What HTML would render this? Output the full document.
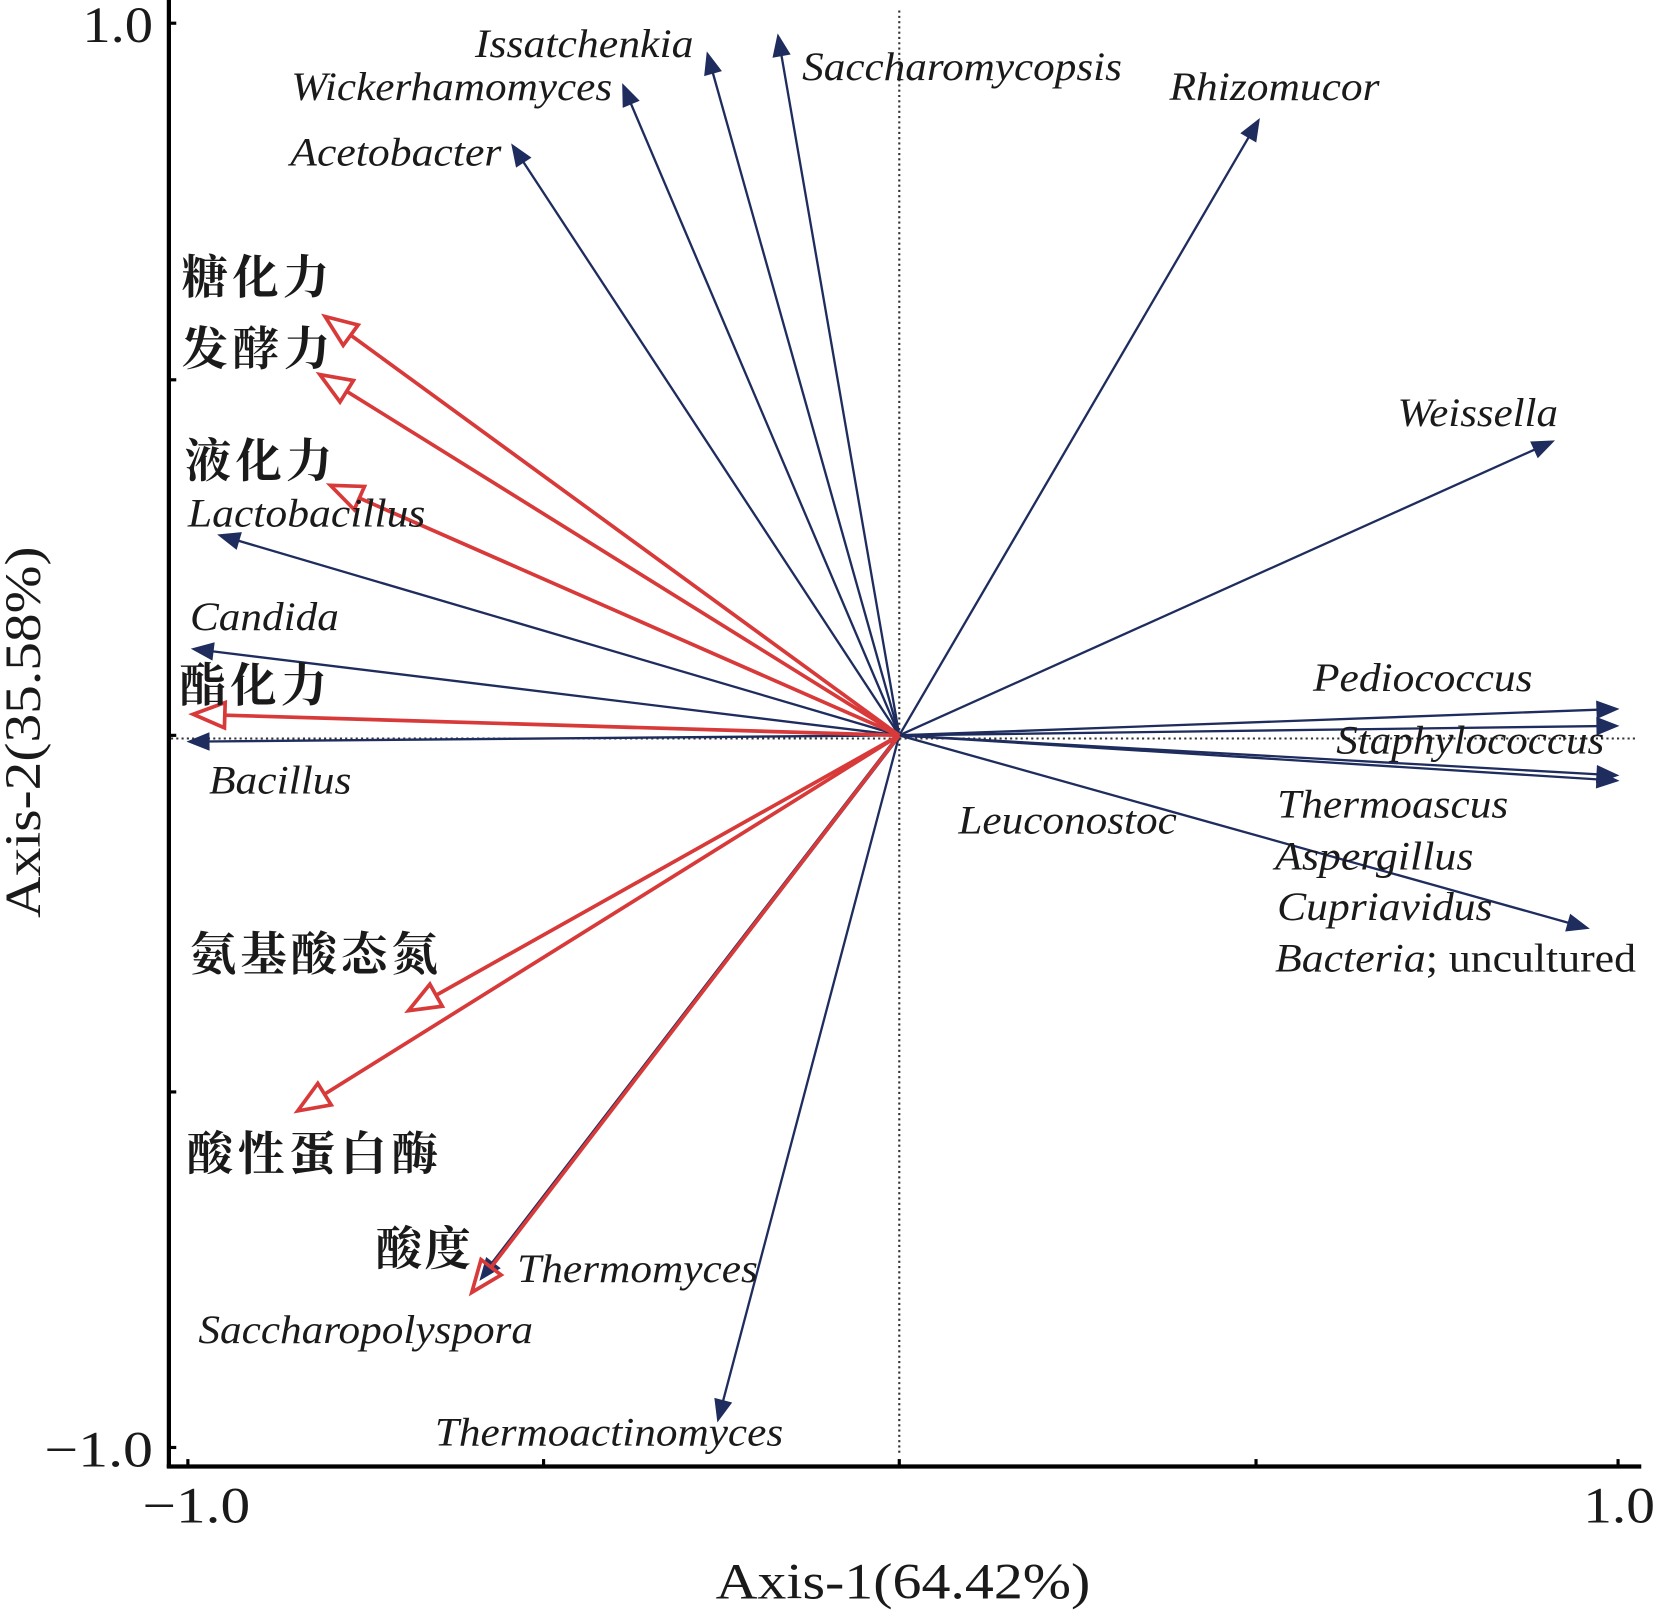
<!DOCTYPE html>
<html><head><meta charset="utf-8"><style>
html,body{margin:0;padding:0;background:#fff;}
svg{display:block;}
.sp{font-family:"Liberation Serif",serif;font-style:italic;font-size:38px;fill:#1a1a1a;}
.cn{font-family:"Liberation Serif","Noto Serif CJK SC",serif;font-size:44px;font-weight:bold;fill:#1a1a1a;}
.ax{font-family:"Liberation Serif",serif;font-size:48px;fill:#1a1a1a;}
</style></head><body>
<svg id="s" width="1655" height="1611" viewBox="0 0 1568 1527" preserveAspectRatio="none" xmlns="http://www.w3.org/2000/svg">
<line x1="160" y1="0" x2="160" y2="1391" stroke="#000" stroke-width="4"/>
<line x1="158" y1="1390" x2="1555" y2="1390" stroke="#000" stroke-width="4"/>
<g stroke="#000" stroke-width="3">
<line x1="160" y1="22" x2="167" y2="22"/><line x1="160" y1="360" x2="167" y2="360"/><line x1="160" y1="697" x2="167" y2="697"/><line x1="160" y1="1035" x2="167" y2="1035"/><line x1="160" y1="1372" x2="167" y2="1372"/>
<line x1="178" y1="1390" x2="178" y2="1383"/><line x1="515" y1="1390" x2="515" y2="1383"/><line x1="852" y1="1390" x2="852" y2="1383"/><line x1="1190" y1="1390" x2="1190" y2="1383"/><line x1="1533" y1="1390" x2="1533" y2="1383"/>
</g>
<line x1="852" y1="10" x2="852" y2="1378" stroke="#333" stroke-width="2" stroke-dasharray="2,3"/>
<line x1="162" y1="700" x2="1552" y2="700" stroke="#333" stroke-width="2" stroke-dasharray="2,3"/>
<g id="arr"></g>
<g>
<text class="ax" x="78" y="40" textLength="67" lengthAdjust="spacingAndGlyphs">1.0</text>
<text class="ax" x="42" y="1390" textLength="103" lengthAdjust="spacingAndGlyphs">−1.0</text>
<text class="ax" x="135" y="1443" textLength="102" lengthAdjust="spacingAndGlyphs">−1.0</text>
<text class="ax" x="1500" y="1443" textLength="68" lengthAdjust="spacingAndGlyphs">1.0</text>
<text class="ax" x="678" y="1515" textLength="355" lengthAdjust="spacingAndGlyphs">Axis-1(64.42%)</text>
<text class="ax" transform="translate(38,870) rotate(-90)" textLength="352" lengthAdjust="spacingAndGlyphs">Axis-2(35.58%)</text>
<text class="sp" x="450" y="54" textLength="207" lengthAdjust="spacingAndGlyphs">Issatchenkia</text>
<text class="sp" x="760" y="76" textLength="303" lengthAdjust="spacingAndGlyphs">Saccharomycopsis</text>
<text class="sp" x="276" y="95" textLength="304" lengthAdjust="spacingAndGlyphs">Wickerhamomyces</text>
<text class="sp" x="275" y="157" textLength="200" lengthAdjust="spacingAndGlyphs">Acetobacter</text>
<text class="sp" x="1108" y="95" textLength="199" lengthAdjust="spacingAndGlyphs">Rhizomucor</text>
<text class="sp" x="1324" y="404" textLength="152" lengthAdjust="spacingAndGlyphs">Weissella</text>
<text class="sp" x="178" y="499" textLength="225" lengthAdjust="spacingAndGlyphs">Lactobacillus</text>
<text class="sp" x="180" y="597" textLength="141" lengthAdjust="spacingAndGlyphs">Candida</text>
<text class="sp" x="198" y="752" textLength="135" lengthAdjust="spacingAndGlyphs">Bacillus</text>
<text class="sp" x="1244" y="655" textLength="208" lengthAdjust="spacingAndGlyphs">Pediococcus</text>
<text class="sp" x="1266" y="714" textLength="254" lengthAdjust="spacingAndGlyphs">Staphylococcus</text>
<text class="sp" x="1210" y="775" textLength="219" lengthAdjust="spacingAndGlyphs">Thermoascus</text>
<text class="sp" x="908" y="790" textLength="207" lengthAdjust="spacingAndGlyphs">Leuconostoc</text>
<text class="sp" x="1208" y="824" textLength="188" lengthAdjust="spacingAndGlyphs">Aspergillus</text>
<text class="sp" x="1210" y="872" textLength="204" lengthAdjust="spacingAndGlyphs">Cupriavidus</text>
<text class="sp" x="1208" y="921" textLength="342" lengthAdjust="spacingAndGlyphs">Bacteria<tspan style="font-style:normal">; uncultured</tspan></text>
<text class="sp" x="490" y="1215" textLength="228" lengthAdjust="spacingAndGlyphs">Thermomyces</text>
<text class="sp" x="188" y="1273" textLength="317" lengthAdjust="spacingAndGlyphs">Saccharopolyspora</text>
<text class="sp" x="412" y="1370" textLength="330" lengthAdjust="spacingAndGlyphs">Thermoactinomyces</text>
<text class="cn" x="172" y="278" textLength="140" lengthAdjust="spacing">糖化力</text>
<text class="cn" x="172" y="346" textLength="141" lengthAdjust="spacing">发酵力</text>
<text class="cn" x="175" y="452" textLength="140" lengthAdjust="spacing">液化力</text>
<text class="cn" x="170" y="665" textLength="140" lengthAdjust="spacing">酯化力</text>
<text class="cn" x="180" y="920" textLength="235" lengthAdjust="spacing">氨基酸态氮</text>
<text class="cn" x="177" y="1109" textLength="238" lengthAdjust="spacing">酸性蛋白酶</text>
<text class="cn" x="356" y="1199" textLength="90" lengthAdjust="spacing">酸度</text>
</g>
</svg>
<script>
var g=document.getElementById('arr'),ns='http://www.w3.org/2000/svg',O=[852,697];
function el(t,a){var e=document.createElementNS(ns,t);for(var k in a)e.setAttribute(k,a[k]);g.appendChild(e);}
function arrow(x,y,col,open,w){var dx=x-O[0],dy=y-O[1],L=Math.hypot(dx,dy),ux=dx/L,uy=dy/L,px=-uy,py=ux;
var hl=open?30:20,hw=open?12:8;var bx=x-ux*hl,by=y-uy*hl;
el('line',{x1:O[0],y1:O[1],x2:open?bx:bx+ux*4,y2:open?by:by+uy*4,stroke:col,'stroke-width':open?3.5:(w||2.2)});
el('polygon',{points:x+','+y+' '+(bx+px*hw)+','+(by+py*hw)+' '+(bx-px*hw)+','+(by-py*hw),fill:open?'none':col,stroke:col,'stroke-width':open?3.5:1,'stroke-linejoin':'miter'});}
var B='#1e2c5e',R='#d83a3a';
[[670,50],[737,33],[590,80],[485,137],[1193,113],[1472,418],[207,507],[182,615],[178,703],[1533,672],[1533,688],[1533,735],[1533,740],[1505,880],[680,1347]].forEach(function(p){arrow(p[0],p[1],B,false);});
arrow(455,1213,B,false,4);
[[308,300],[303,355],[313,460],[183,677],[387,958],[282,1053],[447,1225]].forEach(function(p){arrow(p[0],p[1],R,true);});
</script>
</body></html>
